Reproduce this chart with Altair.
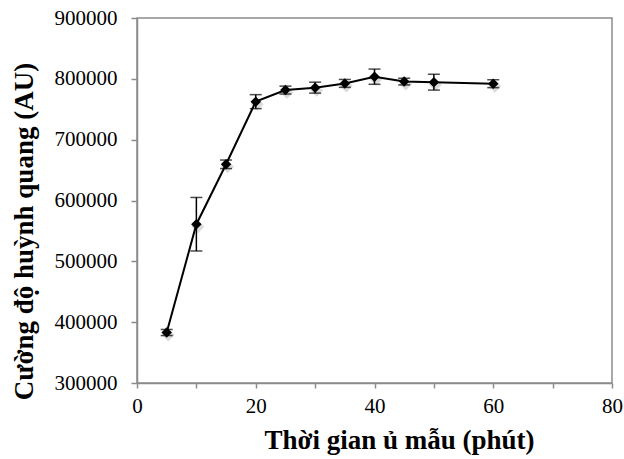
import altair as alt
import pandas as pd

time_min = [5, 10, 15, 20, 25, 30, 35, 40, 45, 50, 60]
intensity = [383000, 561000, 659500, 762500, 781500, 785500, 792500, 803500, 795500, 794500, 792000]
error = [5000, 44000, 7000, 11500, 6500, 9000, 6500, 12500, 5500, 13000, 6500]

df = pd.DataFrame({"t": time_min, "y": intensity, "e": error})
df["lo"] = df["y"] - df["e"]
df["hi"] = df["y"] + df["e"]

FONT = "Liberation Serif"
GRAY = "#8c8c8c"

x_scale = alt.Scale(domain=[0, 80], nice=False, zero=False)
y_scale = alt.Scale(domain=[300000, 900000], nice=False, zero=False)

x_enc = alt.X(
    "t:Q",
    scale=x_scale,
    axis=alt.Axis(
        title="Thời gian ủ mẫu (phút)",
        values=list(range(0, 81, 5)),
        labelExpr="datum.value % 20 == 0 ? datum.label : ''",
        grid=False,
        tickSize=5,
        labelPadding=7,
        labelFontSize=21,
        labelFont=FONT,
        labelColor="black",
        labelFlush=False,
        titleFont=FONT,
        titleFontSize=27,
        titleFontWeight="bold",
        titleColor="black",
        titleBaseline="alphabetic",
        titleAlign="center",
        titleX=262,
        titleY=65,
        domainColor=GRAY,
        domainWidth=1.5,
        tickColor=GRAY,
        tickWidth=1.5,
    ),
)
y_enc = alt.Y(
    "y:Q",
    scale=y_scale,
    axis=alt.Axis(
        title="Cường độ huỳnh quang (AU)",
        values=list(range(300000, 900001, 100000)),
        format="d",
        grid=False,
        tickSize=6,
        labelPadding=14,
        labelFontSize=21,
        labelFont=FONT,
        labelColor="black",
        labelFlush=False,
        titleFont=FONT,
        titleFontSize=27,
        titleFontWeight="bold",
        titleColor="black",
        titleBaseline="alphabetic",
        titleAlign="center",
        titleX=-105,
        titleY=213,
        domainColor=GRAY,
        domainWidth=1.5,
        tickColor=GRAY,
        tickWidth=1.5,
    ),
)

base = alt.Chart(df)

line = base.mark_line(color="black", strokeWidth=2).encode(x=x_enc, y=y_enc)
bars = base.mark_rule(color="black", strokeWidth=1.5).encode(x="t:Q", y="lo:Q", y2="hi:Q")
cap_lo = base.mark_tick(color="black", thickness=1.5, size=12, orient="horizontal").encode(x="t:Q", y="lo:Q")
cap_hi = base.mark_tick(color="black", thickness=1.5, size=12, orient="horizontal").encode(x="t:Q", y="hi:Q")
shadow = base.mark_point(shape="diamond", filled=True, color="#999999", opacity=0.35, size=170,
                         xOffset=1.5, yOffset=2.5).encode(x="t:Q", y="y:Q")
points = base.mark_point(shape="diamond", filled=True, color="black", opacity=1, size=110).encode(x="t:Q", y="y:Q")

chart = (
    alt.layer(shadow, line, bars, cap_lo, cap_hi, points)
    .properties(
        width=475,
        height=365,
        autosize=alt.AutoSizeParams(type="none"),
        padding={"left": 137, "top": 18, "right": 12, "bottom": 76},
        background="white",
    )
    .configure_view(stroke=GRAY, strokeWidth=1.5)
)

chart.save("out.html", embed_options={"renderer": "svg", "actions": False})
